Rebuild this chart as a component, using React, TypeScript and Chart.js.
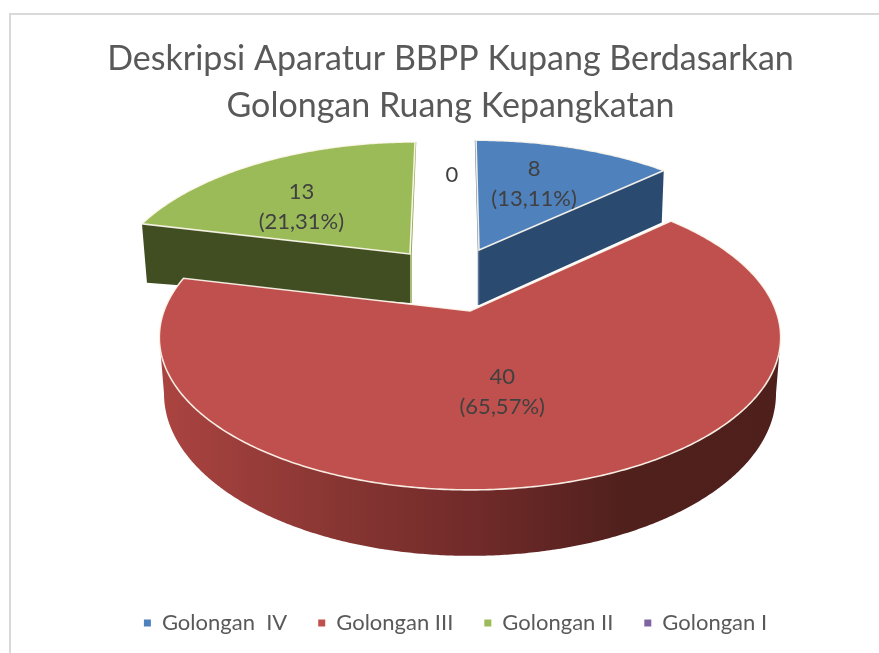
import React, { useEffect, useRef } from "react";
import { Chart, registerables } from "chart.js";

Chart.register(...registerables);

const categories = ["Golongan  IV", "Golongan III", "Golongan II", "Golongan I"];
const counts = [8, 40, 13, 0];
const topColors = ["#4f81bd", "#c0504d", "#9bbb59", "#8064a2"];
const titleLines = ["Deskripsi Aparatur BBPP Kupang Berdasarkan", "Golongan Ruang Kepangkatan"];

const FONT = "Lato";
const LABEL_COLOR = "#404040";

// Projection of each exploded slice: apex on screen, scale, foreshortening, lean.
const views = [
  { ax: 479, ay: 250, s: 296, k: 136, p: 0.239, lean: 0.027, f: 0.6, ldx: -6, ldy: -0.5, wallA: 55, wallE: 52, wallDx: -2, wall: "#2b4a70", sliver: "#5f7796" },
  { ax: 470, ay: 311, s: 306, k: 148, p: 0.1726, lean: 0, f: 0.55, ldx: -15, ldy: -5.5, wallA: 0, wallE: 0, wallDx: 0, wall: "", sliver: "" },
  { ax: 410, ay: 254, s: 292, k: 138.8, p: 0.239, lean: -0.045, f: 0.5, ldx: -28, ldy: 2.5, wallA: 49, wallE: 59, wallDx: 5, wall: "#404e22", sliver: "#8da650" },
  { ax: 452, ay: 246, s: 296, k: 136, p: 0.239, lean: 0, f: 0.6, ldx: 0, ldy: 0, wallA: 0, wallE: 0, wallDx: 0, wall: "", sliver: "" },
];
const drawOrder = [2, 0, 1];
const RED_DEPTH = 54.6;
const RED_SHRINK = 0.985;

function project(v: any, theta: number, f = 1) {
  const u0 = Math.sin(theta) * f;
  const v0 = -Math.cos(theta) * f;
  const den = 1 - v.p * v0;
  const dy = (v.k * v0) / den;
  const dx = (v.s * u0) / den + v.lean * dy;
  return { x: v.ax + dx, y: v.ay + dy, den };
}

const pie3d = {
  id: "pie3d",
  beforeDatasetsDraw(chart: any) {
    const ctx = chart.ctx;
    const arcs = chart.getDatasetMeta(0).data;
    const angles = arcs.map((a: any) => {
      const p = a.getProps(["startAngle", "endAngle"], true);
      return [p.startAngle + Math.PI / 2, p.endAngle + Math.PI / 2];
    });
    ctx.save();
    for (const i of drawOrder) {
      const v = views[i];
      const [a0, a1] = angles[i];
      const steps = Math.max(2, Math.ceil((a1 - a0) * 90));
      const at = (n: number) => a0 + ((a1 - a0) * n) / steps;

      if (i === 1) {
        // curved outer wall, between the two silhouette points of the rim
        const right = Math.max(a0, Math.acos(-v.p));
        const left = Math.min(a1, 2 * Math.PI - Math.acos(-v.p));
        const wallAt = (n: number) => right + ((left - right) * n) / steps;
        const grad = ctx.createLinearGradient(158, 0, 780, 0);
        grad.addColorStop(0, "#ab4441");
        grad.addColorStop(0.32, "#843431");
        grad.addColorStop(0.5, "#722b2a");
        grad.addColorStop(0.75, "#50201d");
        grad.addColorStop(1, "#4e1f1b");
        ctx.fillStyle = grad;
        ctx.beginPath();
        for (let n = 0; n <= steps; n++) {
          const q = project(v, wallAt(n));
          if (n === 0) ctx.moveTo(q.x, q.y);
          else ctx.lineTo(q.x, q.y);
        }
        for (let n = steps; n >= 0; n--) {
          const q = project(v, wallAt(n));
          ctx.lineTo(v.ax + (q.x - v.ax) * RED_SHRINK, q.y + RED_DEPTH / q.den);
        }
        ctx.closePath();
        ctx.fill();
      } else {
        // flat cut face looking at the viewer
        const edge = project(v, i === 0 ? a1 : a0);
        ctx.fillStyle = v.wall;
        ctx.beginPath();
        ctx.moveTo(v.ax, v.ay);
        ctx.lineTo(edge.x, edge.y);
        ctx.lineTo(edge.x + v.wallDx, edge.y + v.wallE);
        ctx.lineTo(v.ax, v.ay + v.wallA);
        ctx.closePath();
        ctx.fill();
        // thin sliver of the other cut face
        const far = project(v, i === 0 ? a0 : a1);
        ctx.strokeStyle = v.sliver;
        ctx.lineWidth = 1.5;
        ctx.beginPath();
        ctx.moveTo(far.x + (i === 0 ? -0.5 : 0.5), far.y);
        ctx.lineTo(v.ax + (i === 0 ? -0.5 : 1), v.ay);
        ctx.lineTo(v.ax + (i === 0 ? -0.5 : 1), v.ay + v.wallA);
        ctx.stroke();
      }

      // top surface
      ctx.beginPath();
      ctx.moveTo(v.ax, v.ay);
      for (let n = 0; n <= steps; n++) {
        const q = project(v, at(n));
        ctx.lineTo(q.x, q.y);
      }
      ctx.closePath();
      ctx.fillStyle = topColors[i];
      ctx.fill();
      ctx.strokeStyle = "rgba(255,250,240,0.9)";
      ctx.lineWidth = 1.6;
      ctx.stroke();
    }

    // data labels
    const total = counts.reduce((a, b) => a + b, 0);
    ctx.fillStyle = LABEL_COLOR;
    ctx.font = `22px ${FONT}`;
    ctx.textAlign = "center";
    ctx.textBaseline = "middle";
    counts.forEach((c, i) => {
      const v = views[i];
      const mid = (angles[i][0] + angles[i][1]) / 2;
      const q = project(v, mid, v.f);
      const x = q.x + v.ldx;
      const y = q.y + v.ldy;
      if (c === 0) {
        ctx.fillText(String(c), x, y);
      } else {
        const pct = ((c / total) * 100).toFixed(2).replace(".", ",");
        ctx.fillText(String(c), x, y - 15);
        ctx.fillText(`(${pct}%)`, x, y + 15);
      }
    });
    ctx.restore();
    return false;
  },
  afterLayout(chart: any) {
    chart.legend.left += 5;
    chart.legend.right += 5;
  },
};

export default function App() {
  const ref = useRef<HTMLCanvasElement>(null);
  useEffect(() => {
    const chart = new Chart(ref.current as HTMLCanvasElement, {
      type: "pie",
      data: {
        labels: categories,
        datasets: [{ data: counts, backgroundColor: topColors, borderWidth: 0 }],
      },
      options: {
        responsive: false,
        animation: false,
        layout: { padding: { left: 22, top: 35.5, bottom: 9 } },
        plugins: {
          tooltip: { enabled: false },
          title: {
            display: true,
            text: titleLines,
            color: "#595959",
            font: { family: FONT, size: 34, weight: "normal", lineHeight: 1.38 },
            padding: { top: 0, bottom: 10 },
          },
          legend: {
            position: "bottom",
            labels: {
              boxWidth: 7,
              boxHeight: 7,
              padding: 31,
              color: "#595959",
              font: { family: FONT, size: 22 },
            },
          },
        },
      },
      plugins: [pie3d],
    } as any);
    return () => chart.destroy();
  }, []);
  return (
    <div style={{ position: "absolute", left: 0, top: 0, width: 879, height: 653, background: "#fff", overflow: "hidden" }}>
      <canvas ref={ref} width={879} height={653} style={{ position: "absolute", left: 0, top: 0 }} />
      <div style={{ position: "absolute", left: 9, top: 13, right: 0, bottom: 0, borderLeft: "2px solid #d9d9d9", borderTop: "2px solid #d9d9d9" }} />
    </div>
  );
}
